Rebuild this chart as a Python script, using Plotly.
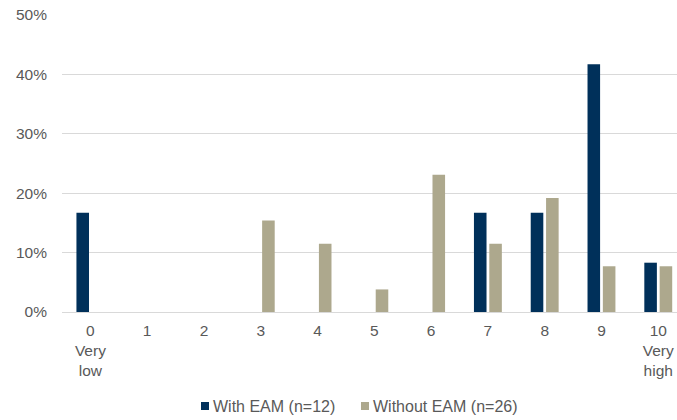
import plotly.graph_objects as go

categories = ["0", "1", "2", "3", "4", "5", "6", "7", "8", "9", "10"]
tick_labels = ["0<br>Very<br>low", "1", "2", "3", "4", "5", "6", "7", "8", "9", "10<br>Very<br>high"]
series_names = ["With EAM (n=12)", "Without EAM (n=26)"]
series_colors = ["#00305A", "#ADA88D"]
with_eam = [16.7, 0, 0, 0, 0, 0, 0, 16.7, 16.7, 41.7, 8.3]
without_eam = [0, 0, 0, 15.4, 11.5, 3.8, 23.1, 11.5, 19.2, 7.7, 7.7]

W, H = 677, 420
ML, MR, MT, MB = 62, 0, 15, 108
PW, PH = W - ML - MR, H - MT - MB


def px_x(px):
    return (px - ML) / PW


def px_y(py):
    return (H - MB - py) / PH


x_pos = list(range(len(categories)))

fig = go.Figure()
for name, vals, col in zip(series_names, [with_eam, without_eam], series_colors):
    fig.add_trace(go.Bar(x=x_pos, y=vals, name=name, showlegend=False,
                         marker=dict(color=col, line=dict(width=0))))

# legend drawn as swatch + label, bottom centre
legend_items = [(201, series_names[0], series_colors[0]), (361, series_names[1], series_colors[1])]
for left, name, col in legend_items:
    fig.add_shape(type="rect", xref="paper", yref="paper",
                  x0=px_x(left), x1=px_x(left + 8), y0=px_y(410), y1=px_y(402),
                  fillcolor=col, line=dict(width=0))
    fig.add_annotation(xref="paper", yref="paper", x=px_x(left + 10), y=px_y(406),
                       xanchor="left", yanchor="middle", showarrow=False, text=name,
                       font=dict(size=16, color="#595959"))

fig.update_layout(
    width=W, height=H,
    margin=dict(l=ML, r=MR, t=MT, b=MB),
    paper_bgcolor="white", plot_bgcolor="white",
    barmode="group", bargap=0.46, bargroupgap=0.18,
    font=dict(family="Liberation Sans, Arial, sans-serif", size=15.5, color="#595959"),
    xaxis=dict(range=[-0.5, 10.33], tickmode="array", tickvals=x_pos, ticktext=tick_labels,
               showgrid=False, zeroline=False, showline=False, ticks="",
               ticklabelstandoff=7),
    yaxis=dict(range=[0, 50], dtick=10, ticksuffix="%", showgrid=True,
               gridcolor="#D9D9D9", gridwidth=1.3, zeroline=True, zerolinecolor="#D9D9D9",
               zerolinewidth=1.3, ticks="", ticklabelstandoff=14),
)

fig.write_html("out.html")
